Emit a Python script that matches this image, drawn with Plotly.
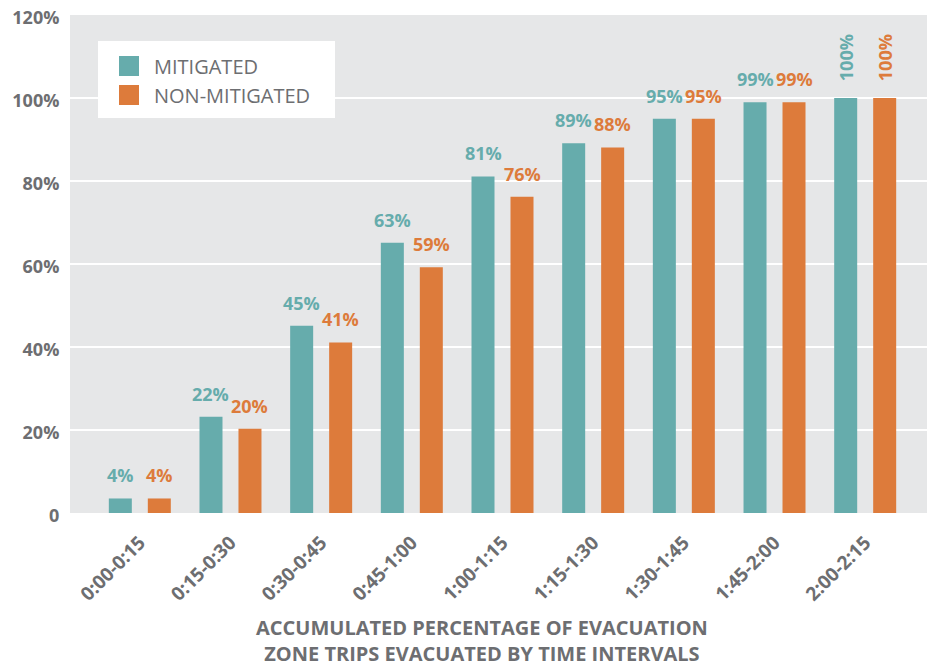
import plotly.graph_objects as go

categories = ["0:00-0:15", "0:15-0:30", "0:30-0:45", "0:45-1:00", "1:00-1:15",
              "1:15-1:30", "1:30-1:45", "1:45-2:00", "2:00-2:15"]
mitigated = [3.5, 23.2, 45.1, 65.1, 81.1, 89.1, 95.0, 99.0, 100.0]
non_mitigated = [3.5, 20.3, 41.1, 59.2, 76.2, 88.1, 95.0, 99.0, 100.0]
mitigated_labels = ["4%", "22%", "45%", "63%", "81%", "89%", "95%", "99%", "100%"]
non_mitigated_labels = ["4%", "20%", "41%", "59%", "76%", "88%", "95%", "99%", "100%"]
y_ticks = [0, 20, 40, 60, 80, 100, 120]
y_tick_labels = ["0", "20%", "40%", "60%", "80%", "100%", "120%"]
title_lines = ["ACCUMULATED PERCENTAGE OF EVACUATION",
               "ZONE TRIPS EVACUATED BY TIME INTERVALS"]

TEAL = "#66acac"
ORANGE = "#dd7b3b"
GRAY = "#6d6e71"
BG = "#e6e7e8"
FONT = "Open Sans"

fig = go.Figure()
fig.add_trace(go.Bar(x=categories, y=mitigated, name="MITIGATED",
                     marker=dict(color=TEAL, line=dict(width=0))))
fig.add_trace(go.Bar(x=categories, y=non_mitigated, name="NON-MITIGATED",
                     marker=dict(color=ORANGE, line=dict(width=0))))

annotations = []
for vals, labels, color, xs in [(mitigated, mitigated_labels, TEAL, -19.5),
                                (non_mitigated, non_mitigated_labels, ORANGE, 19.5)]:
    for cat, v, lab in zip(categories, vals, labels):
        rotated = len(lab) > 3
        annotations.append(dict(
            x=cat, y=v, xref="x", yref="y", text=lab, showarrow=False,
            xshift=xs, yshift=(15 if rotated else 9),
            xanchor="center", yanchor="bottom",
            textangle=(-90 if rotated else 0),
            font=dict(family=FONT, size=18, color=color, weight="bold"),
        ))

# plot area in page pixels: left 70, right 935, top 15, bottom 513
def px_x(p):
    return (p - 70) / 865.0

def px_y(p):
    return (513 - p) / 498.0

# x axis title (two lines)
annotations.append(dict(
    x=px_x(482), y=px_y(640), xref="paper", yref="paper", showarrow=False,
    text="<br>".join(title_lines), xanchor="center", yanchor="middle", align="center",
    font=dict(family=FONT, size=20, color=GRAY, weight="bold"),
))

# legend (manual)
shapes = [
    dict(type="rect", xref="paper", yref="paper", x0=px_x(98), x1=px_x(335),
         y0=px_y(118), y1=px_y(41), fillcolor="white", line=dict(width=0), layer="above"),
    dict(type="rect", xref="paper", yref="paper", x0=px_x(119), x1=px_x(139),
         y0=px_y(76), y1=px_y(56), fillcolor=TEAL, line=dict(width=0), layer="above"),
    dict(type="rect", xref="paper", yref="paper", x0=px_x(119), x1=px_x(139),
         y0=px_y(105), y1=px_y(85), fillcolor=ORANGE, line=dict(width=0), layer="above"),
]
for name, yy in [("MITIGATED", 67), ("NON-MITIGATED", 95)]:
    annotations.append(dict(
        x=px_x(152), y=px_y(yy), xref="paper", yref="paper", text=name,
        showarrow=False, xanchor="left", yanchor="middle",
        font=dict(family=FONT, size=20, color=GRAY),
    ))

# page has an 8px body margin, so the figure is offset by 8px
fig.update_layout(
    width=927, height=658,
    margin=dict(l=62, r=0, t=7, b=153, autoexpand=False),
    paper_bgcolor="white", plot_bgcolor=BG,
    barmode="group", bargap=0.14, bargroupgap=0.41,
    showlegend=False,
    font=dict(family=FONT, color=GRAY),
    annotations=annotations, shapes=shapes,
    xaxis=dict(range=[-0.77, 8.77], tickangle=-45, showgrid=False, zeroline=False,
               ticks="outside", ticklen=10, tickcolor="rgba(0,0,0,0)",
               automargin=False,
               tickfont=dict(family=FONT, size=19, color=GRAY, weight="bold"),
               showline=False),
    yaxis=dict(range=[0, 120], tickvals=y_ticks, ticktext=y_tick_labels,
               showgrid=True, gridcolor="white", gridwidth=2, zeroline=False,
               ticks="outside", ticklen=6, tickcolor="rgba(0,0,0,0)",
               ticklabeloverflow="allow", automargin=False, ticklabelshift=3,
               tickfont=dict(family=FONT, size=18, color=GRAY, weight="bold"),
               showline=False),
)

fig.write_html("out.html")
